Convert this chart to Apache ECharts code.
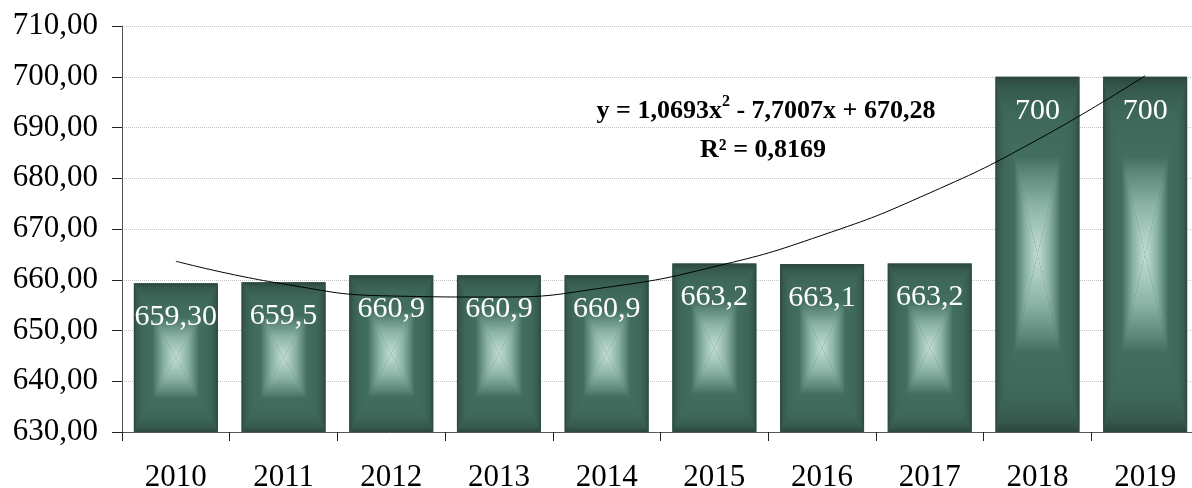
<!DOCTYPE html>
<html>
<head>
<meta charset="utf-8">
<script src="https://cdn.jsdelivr.net/npm/echarts@6/dist/echarts.min.js"></script>
<style>
html,body{margin:0;padding:0;background:#fff;}
#c{width:1192px;height:488px;}
</style>
</head>
<body>
<div id="c"></div>
<script>
const categories = ['2010','2011','2012','2013','2014','2015','2016','2017','2018','2019'];
const values = [659.3, 659.5, 660.9, 660.9, 660.9, 663.2, 663.1, 663.2, 700, 700];
const valueLabels = ['659,30','659,5','660,9','660,9','660,9','663,2','663,1','663,2','700','700'];
const trendValues = [663.65, 659.16, 656.80, 656.59, 658.51, 662.57, 668.77, 677.11, 687.59, 700.20];
const yMin = 630, yMax = 710, yStep = 10;
const eqLine1 = ['y = 1,0693x', '2', ' - 7,7007x + 670,28'];
const eqLine2 = 'R² = 0,8169';

const FONT = "'Liberation Serif', 'Times New Roman', serif";
const stops = [
  {offset: 0, color: '#2c463e'},
  {offset: 0.07, color: '#365b4e'},
  {offset: 0.2, color: '#3d6759'},
  {offset: 0.45, color: '#426e60'},
  {offset: 0.53, color: '#5a8576'},
  {offset: 0.72, color: '#8ab2a5'},
  {offset: 1, color: '#c3dfd7'}
];
function grad(x0, y0, x1, y1) {
  return new echarts.graphic.LinearGradient(x0, y0, x1, y1, stops);
}

function renderBar(params, api) {
  const i = api.value(0), v = api.value(1);
  const top = api.coord([i, v]);
  const bot = api.coord([i, yMin]);
  const bw = api.size([1, 0])[0] * 0.78;
  const x0 = top[0] - bw / 2, x1 = top[0] + bw / 2;
  const y0 = top[1], y1 = bot[1];
  const cx = top[0], cy = (y0 + y1) / 2;
  return {
    type: 'group',
    children: [
      {type: 'rect', shape: {x: x0, y: y0, width: bw, height: y1 - y0}, style: {fill: '#3d6759'}},
      {type: 'polygon', shape: {points: [[x0, y0], [x0, y1], [cx, cy]]}, style: {fill: grad(0, 0, 1, 0)}},
      {type: 'polygon', shape: {points: [[x1, y0], [x1, y1], [cx, cy]]}, style: {fill: grad(1, 0, 0, 0)}},
      {type: 'polygon', shape: {points: [[x0, y0], [x1, y0], [cx, cy]]}, style: {fill: grad(0, 0, 0, 1)}},
      {type: 'polygon', shape: {points: [[x0, y1], [x1, y1], [cx, cy]]}, style: {fill: grad(0, 1, 0, 0)}}
    ]
  };
}

const chart = echarts.init(document.getElementById('c'), null, {renderer: 'canvas'});
chart.setOption({
  animation: false,
  backgroundColor: '#ffffff',
  grid: {left: 122, top: 26, width: 1077, height: 406, containLabel: false, outerBoundsMode: 'none'},
  xAxis: {
    type: 'category',
    data: categories,
    boundaryGap: true,
    axisLine: {show: true, lineStyle: {color: '#555555', width: 1}},
    axisTick: {show: true, length: 9, lineStyle: {color: '#222222'}},
    axisLabel: {color: '#000', fontFamily: FONT, fontSize: 31, margin: 30}
  },
  yAxis: {
    type: 'value',
    min: yMin, max: yMax, interval: yStep,
    axisLine: {show: true, lineStyle: {color: '#555555', width: 1}},
    axisTick: {show: true, length: 10, lineStyle: {color: '#222222'}},
    axisLabel: {
      color: '#000', fontFamily: FONT, fontSize: 31, margin: 24,
      formatter: v => v.toFixed(2).replace('.', ',')
    },
    splitLine: {show: true, lineStyle: {color: '#c4c4c4', type: 'dotted', width: 1}}
  },
  series: [
    {
      type: 'custom',
      renderItem: renderBar,
      data: values.map((v, i) => [i, v]),
      encode: {x: 0, y: 1},
      z: 2,
      silent: true
    },
    {
      type: 'bar',
      data: values,
      barWidth: '78%',
      itemStyle: {color: 'rgba(0,0,0,0)'},
      label: {
        show: true, position: 'insideTop', distance: 19,
        color: '#ffffff', fontFamily: FONT, fontSize: 30,
        formatter: p => valueLabels[p.dataIndex]
      },
      z: 3,
      silent: true
    },
    {
      type: 'line',
      data: trendValues,
      smooth: true,
      symbol: 'none',
      lineStyle: {color: '#000000', width: 1},
      z: 4,
      silent: true
    }
  ],
  graphic: [
    {
      type: 'text', z: 10,
      x: 766, y: 109,
      style: {
        text: '{a|' + eqLine1[0] + '}{s|' + eqLine1[1] + '}{a|' + eqLine1[2] + '}',
        align: 'center', verticalAlign: 'middle',
        rich: {
          a: {fontFamily: FONT, fontWeight: 'bold', fontSize: 26, fill: '#000', lineHeight: 30, verticalAlign: 'bottom'},
          s: {fontFamily: FONT, fontWeight: 'bold', fontSize: 16, fill: '#000', lineHeight: 30, verticalAlign: 'top'}
        }
      }
    },
    {
      type: 'text', z: 10,
      x: 763, y: 150,
      style: {
        text: eqLine2,
        align: 'center', verticalAlign: 'middle',
        font: 'bold 26px ' + FONT,
        fill: '#000'
      }
    }
  ]
});
</script>
</body>
</html>
